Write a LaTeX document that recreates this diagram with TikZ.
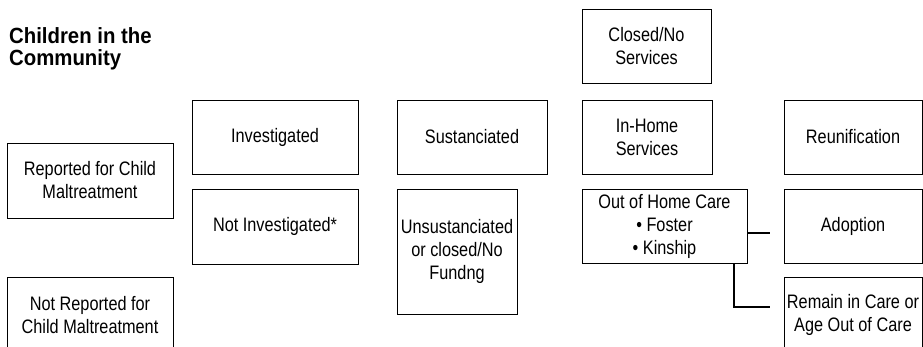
\documentclass[tikz,border=0pt]{standalone}
\usepackage{fontspec}
\setmainfont{Liberation Sans}[FakeStretch=0.835]
\newfontfamily\titlefont{Liberation Sans}[FakeStretch=0.925]
\usepackage{tikz}
\usetikzlibrary{positioning}
\newcommand{\bodyfont}{\fontsize{19.5}{23}\selectfont}
\tikzstyle{stage} = [rectangle, draw=black, line width=0.9pt, text=black, align=center, inner sep=0pt, font=\bodyfont]
\tikzstyle{heading} = [anchor=north west, align=left, inner sep=0pt, font=\titlefont\bfseries\fontsize{22}{22}\selectfont]
\tikzstyle{link} = [line width=2pt, black]

\begin{document}
\begin{tikzpicture}[x=1pt, y=-1pt]

    \useasboundingbox (0,0) rectangle (923,347);
    \clip (0,0) rectangle (923,347);

    \node (title) [heading] at (9,27.5) {Children in the\\Community};

    % reports
    \node (reported) [stage, minimum width=166, minimum height=75] at (90,180.5) {Reported for Child\\Maltreatment};
    \node (notreported) [stage, minimum width=166, minimum height=75] at (90,315) {Not Reported for\\Child Maltreatment};

    % investigation
    \node (investigated) [stage, minimum width=166, minimum height=74] at (275,137) {Investigated};
    \node (notinvestigated) [stage, minimum width=166, minimum height=75] at (275,226.5) {Not Investigated*};

    % findings
    \node (sustanciated) [stage, minimum width=150, minimum height=74] at (472,137) {Sustanciated};
    \node (unsustanciated) [stage, minimum width=120, minimum height=125] at (457,251.5) {Unsustanciated\\or closed/No\\Fundng};

    % services
    \node (closed) [stage, minimum width=129, minimum height=74] at (646.5,46) {Closed/No\\Services};
    \node (inhome) [stage, minimum width=130, minimum height=74] at (647,137) {In-Home\\Services};
    \node (outhome) [stage, minimum width=165, minimum height=74] at (664.5,226) {Out of Home Care\\\textbullet{} Foster\\\textbullet{} Kinship};

    % outcomes
    \node (reunification) [stage, minimum width=138, minimum height=74] at (853,137) {Reunification};
    \node (adoption) [stage, minimum width=138, minimum height=74] at (853,226) {Adoption};
    \node (remain) [stage, minimum width=138, minimum height=75] at (853,314.5) {Remain in Care or\\Age Out of Care};

    \coordinate (adoptstub) at (770,232.7);
    \coordinate (remainstub) at (770,306.7);

    \draw [link] (outhome.east |- adoptstub) -- (adoptstub);
    \draw [link] ([xshift=-13pt]outhome.south east) |- (remainstub);

\end{tikzpicture}
\end{document}
